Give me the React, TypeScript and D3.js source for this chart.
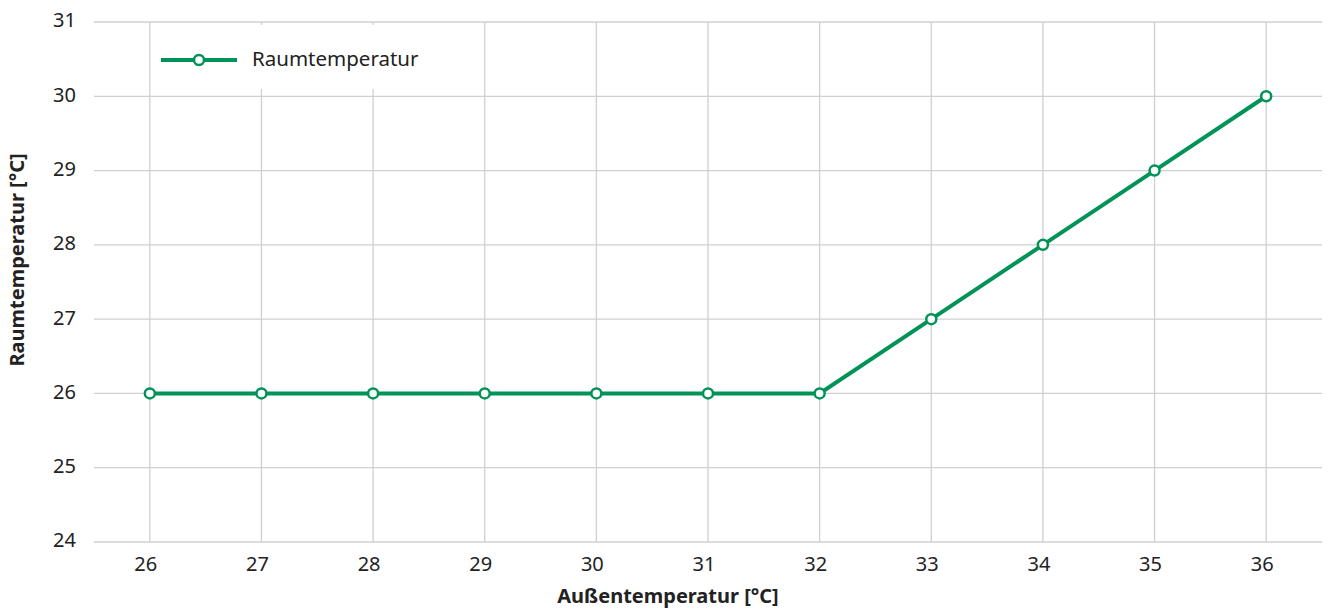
import * as d3 from "d3";
import React from "react";

const outsideTemps = [26, 27, 28, 29, 30, 31, 32, 33, 34, 35, 36];
const roomTemps = [26, 26, 26, 26, 26, 26, 26, 27, 28, 29, 30];
const yTicks = [24, 25, 26, 27, 28, 29, 30, 31];
const seriesName = "Raumtemperatur";
const xTitle = "Außentemperatur [°C]";
const yTitle = "Raumtemperatur [°C]";

const GREEN = "#009357";
const GRID = "#d0d0d0";
const FONT = "'Noto Sans', 'Open Sans', sans-serif";

export default function App() {
	const svgRef = React.useRef<SVGSVGElement>(null);
	const width = 1330;
	const height = 609;

	React.useEffect(() => {
		if (!svgRef.current) return;
		const margins = { top: 22, right: 8, bottom: 67, left: 94 };

		const svg = d3.select(svgRef.current);
		svg.selectAll("*").remove();

		const x = d3
			.scaleLinear()
			.domain([25.5, 36.5])
			.range([margins.left, width - margins.right]);
		const y = d3
			.scaleLinear()
			.domain([24, 31])
			.range([height - margins.bottom, margins.top]);

		// grid lines
		const g = svg.append("g");
		outsideTemps.forEach((t) => {
			g.append("line")
				.attr("x1", x(t))
				.attr("x2", x(t))
				.attr("y1", y(31))
				.attr("y2", y(24))
				.attr("stroke", GRID)
				.attr("stroke-width", 1.3);
		});
		yTicks.forEach((t) => {
			g.append("line")
				.attr("x1", margins.left)
				.attr("x2", width - margins.right)
				.attr("y1", y(t))
				.attr("y2", y(t))
				.attr("stroke", GRID)
				.attr("stroke-width", 1.3);
		});

		// tick labels
		yTicks.forEach((t) => {
			svg.append("text")
				.attr("x", 76)
				.attr("y", y(t))
				.attr("text-anchor", "end")
				.attr("dominant-baseline", "middle")
				.attr("font-family", FONT)
				.attr("font-size", 20)
				.attr("fill", "#222")
				.text(t);
		});
		outsideTemps.forEach((t) => {
			svg.append("text")
				.attr("x", x(t) - 4)
				.attr("y", 566)
				.attr("text-anchor", "middle")
				.attr("dominant-baseline", "middle")
				.attr("font-family", FONT)
				.attr("font-size", 20)
				.attr("fill", "#222")
				.text(t);
		});

		// axis titles
		svg.append("text")
			.attr("x", 668)
			.attr("y", 598)
			.attr("text-anchor", "middle")
			.attr("dominant-baseline", "middle")
			.attr("font-family", FONT)
			.attr("font-weight", "bold")
			.attr("font-size", 20)
			.attr("fill", "#222")
			.text(xTitle);
		svg.append("text")
			.attr("transform", `translate(19, ${260}) rotate(-90)`)
			.attr("text-anchor", "middle")
			.attr("dominant-baseline", "middle")
			.attr("font-family", FONT)
			.attr("font-weight", "bold")
			.attr("font-size", 20)
			.attr("fill", "#222")
			.text(yTitle);

		// legend background covering the grid
		svg.append("rect")
			.attr("x", 156)
			.attr("y", 25)
			.attr("width", 285)
			.attr("height", 64)
			.attr("fill", "white");

		// data line
		const line = d3
			.line<number>()
			.x((_, i) => x(outsideTemps[i]))
			.y((d) => y(d));
		svg.append("path")
			.attr("d", line(roomTemps))
			.attr("fill", "none")
			.attr("stroke", GREEN)
			.attr("stroke-width", 4);
		svg.selectAll("circle.pt")
			.data(roomTemps)
			.enter()
			.append("circle")
			.attr("class", "pt")
			.attr("cx", (_, i) => x(outsideTemps[i]))
			.attr("cy", (d) => y(d))
			.attr("r", 5)
			.attr("fill", "white")
			.attr("stroke", GREEN)
			.attr("stroke-width", 2.5);

		// legend
		svg.append("line")
			.attr("x1", 161)
			.attr("x2", 237)
			.attr("y1", 60)
			.attr("y2", 60)
			.attr("stroke", GREEN)
			.attr("stroke-width", 4);
		svg.append("circle")
			.attr("cx", 199)
			.attr("cy", 60)
			.attr("r", 5)
			.attr("fill", "white")
			.attr("stroke", GREEN)
			.attr("stroke-width", 2.5);
		svg.append("text")
			.attr("x", 252)
			.attr("y", 60)
			.attr("dominant-baseline", "middle")
			.attr("font-family", FONT)
			.attr("font-size", 20.5)
			.attr("fill", "#222")
			.text(seriesName);
	}, []);

	return (
		<svg
			ref={svgRef}
			width={width}
			height={height}
			style={{ position: "absolute", left: 0, top: 0, background: "white" }}
		/>
	);
}
